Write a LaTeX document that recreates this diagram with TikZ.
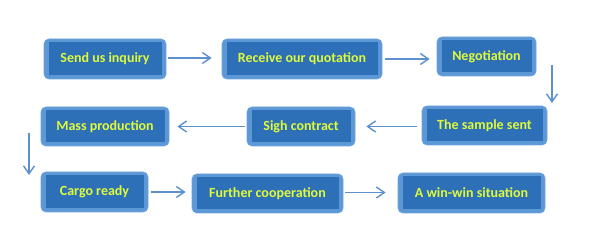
\documentclass[tikz,border=0pt]{standalone}
\usepackage{fontspec}
\setmainfont{Carlito}
\usetikzlibrary{arrows.meta,calc}
\definecolor{outerblue}{RGB}{92,151,214}
\definecolor{outerline}{RGB}{110,165,222}
\definecolor{innerblue}{RGB}{46,112,184}
\definecolor{txtyellow}{RGB}{222,250,58}
\definecolor{arrblue}{RGB}{92,144,206}
\tikzset{
  stepbox/.style={rounded corners=5pt, fill=outerblue, draw=outerline, line width=0.8pt,
    inner sep=0pt, font=\fontsize{14}{16}\selectfont\bfseries, text=txtyellow,
    path picture={\fill[innerblue,sharp corners]
      ([shift={(4.5pt,4pt)}]path picture bounding box.south west) rectangle
      ([shift={(-4.5pt,-3.5pt)}]path picture bounding box.north east);}},
  arr/.style={draw=arrblue, line width=1.4pt, -{Straight Barb[length=8pt,width=11pt]}}
}
\begin{document}
\begin{tikzpicture}[x=1pt,y=1pt]
\useasboundingbox[fill=white] (0,0) rectangle (602,248);
% row 1
\node[stepbox, minimum width=122pt, minimum height=40pt] (send) at (105,189) {Send us inquiry};
\node[stepbox, minimum width=160pt, minimum height=40pt] (recv) at (302,189) {Receive our quotation};
\node[stepbox, minimum width=99pt, minimum height=39pt] (nego) at (486.5,191.5) {Negotiation};
% row 2
\node[stepbox, minimum width=125pt, minimum height=39pt] (sample) at (484.5,122.5) {The sample sent};
\node[stepbox, minimum width=108pt, minimum height=39pt] (sigh) at (301,121.5) {Sigh contract};
\node[stepbox, minimum width=128pt, minimum height=39pt] (mass) at (105,121.5) {Mass production};
% row 3
\node[stepbox, minimum width=107pt, minimum height=40pt] (cargo) at (94.5,56) {Cargo ready};
\node[stepbox, minimum width=151pt, minimum height=39pt] (further) at (267.5,54.5) {Further cooperation};
\node[stepbox, minimum width=147pt, minimum height=40pt] (win) at (471.5,55) {A win-win situation};
% free-end coordinates for vertical arrows
\coordinate (d1s) at (552,183);
\coordinate (d1e) at (552,145);
\coordinate (d2s) at (29,115);
\coordinate (d2e) at (29,73);
% connectors
\draw[arr, shorten <=2pt, shorten >=10pt] ([yshift=1pt]send.east) -- ([yshift=1pt]send.east -| recv.west);
\draw[arr, shorten <=3pt, shorten >=7pt] (recv.east) -- (recv.east -| nego.west);
\draw[arr] (d1s) -- (d1e);
\draw[arr, shorten <=5pt, shorten >=11pt] (sample.west |- sigh.east) -- (sigh.east);
\draw[arr, shorten <=2pt, shorten >=8pt] (sigh.west) -- (sigh.west -| mass.east);
\draw[arr] (d2s) -- (d2e);
\draw[arr, shorten <=3pt, shorten >=6pt] (cargo.east) -- (cargo.east -| further.west);
\draw[arr, shorten <=2pt, shorten >=12pt] ([yshift=1pt]further.east) -- ([yshift=1pt]further.east -| win.west);
\end{tikzpicture}
\end{document}
